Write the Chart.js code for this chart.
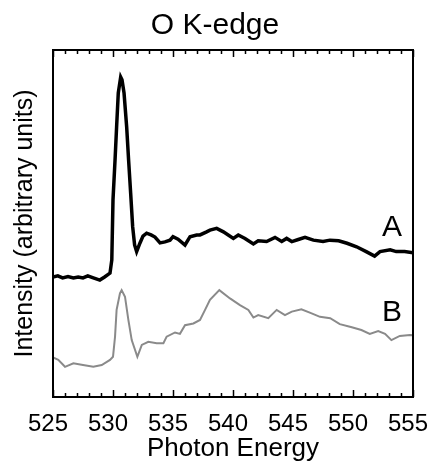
<!DOCTYPE html>
<html>
<head>
<meta charset="utf-8">
<title>O K-edge</title>
<script src="https://cdn.jsdelivr.net/npm/chart.js@4"></script>
<style>
    body { margin: 0; background: #fff; }
    #wrap { width: 430px; height: 461px; }
</style>
</head>
<body>
<div id="wrap"><canvas id="xasChart" width="430" height="461"></canvas></div>
<script>
// Photon energy (eV) and intensity for spectrum A
const energyA = [525.0, 525.4, 525.8, 526.25, 526.7, 527.1, 527.5, 527.9, 528.3, 528.9, 529.3, 529.75,
    529.9, 530.0, 530.17, 530.3, 530.44, 530.64, 530.75, 530.92, 531.14, 531.3, 531.47, 531.64, 531.8, 531.97,
    532.25, 532.5, 532.8, 533.17, 533.5, 533.92, 534.33, 534.75, 535.0, 535.42, 536.0, 536.42, 536.97,
    537.25, 537.8, 538.08, 538.64, 539.2, 539.6, 540.03, 540.44, 541.0, 541.7, 542.1, 542.8, 543.5,
    544.06, 544.47, 544.9, 545.44, 546.0, 546.7, 547.5, 548.08, 548.8, 549.5, 550.3, 551.1, 551.8,
    552.25, 553.1, 553.6, 554.3, 555.0];
const intensityA = [34.6, 34.9, 34.3, 34.7, 34.3, 34.6, 34.3, 34.9, 34.4, 33.7, 34.6, 35.7,
    39.5, 56.8, 68.3, 77.8, 87.6, 92.2, 91.4, 87.6, 77.8, 68.3, 58.8, 49.0, 43.8, 41.9,
    44.4, 46.4, 47.2, 46.7, 46.1, 44.4, 44.7, 45.2, 46.2, 45.5, 43.8, 46.2, 46.7,
    46.7, 47.6, 48.1, 48.6, 47.6, 46.7, 45.7, 46.7, 45.7, 44.1, 45.0, 44.8, 46.0,
    44.8, 45.7, 44.8, 45.4, 46.0, 45.2, 44.8, 45.2, 45.0, 44.3, 43.3, 41.9, 40.6,
    41.9, 42.4, 41.9, 41.9, 41.6];

// Photon energy (eV) and intensity for spectrum B
const energyB = [525.0, 525.44, 526.0, 526.7, 527.5, 528.36, 529.06, 529.75, 530.0, 530.17, 530.3,
    530.58, 530.72, 531.0, 531.28, 531.56, 532.03, 532.4, 532.94, 533.64, 534.2, 534.47, 535.17,
    535.58, 536.0, 536.7, 537.25, 537.67, 538.08, 538.86, 539.75, 540.58, 541.28, 541.7, 542.1,
    542.94, 543.64, 544.33, 544.9, 545.7, 546.4, 547.25, 548.1, 548.9, 549.9, 550.7, 551.4, 552.1,
    552.67, 553.2, 553.9, 554.75, 555.0];
const intensityB = [11.4, 10.7, 8.7, 9.7, 9.2, 8.7, 9.2, 10.7, 11.6, 17.4, 25.1,
    29.9, 30.8, 28.9, 22.2, 16.4, 11.6, 15.0, 15.9, 15.5, 15.5, 17.4, 18.6,
    18.2, 20.7, 21.2, 22.2, 25.1, 28.0, 30.8, 28.4, 26.5, 25.1, 22.9, 23.6,
    22.7, 25.1, 23.6, 24.6, 25.3, 24.3, 23.1, 22.7, 21.0, 20.1, 19.3, 18.2, 19.0,
    18.2, 16.4, 17.6, 17.9, 17.8];

// Curve labels placed at (energy, intensity)
const curveLabels = [
    { text: 'A', x: 553.25, y: 48.7 },
    { text: 'B', x: 553.25, y: 24.2 }
];

const FONT = '"Liberation Sans", Arial, Helvetica, sans-serif';

function toPoints(xs, ys) {
    return xs.map((x, i) => ({ x: x, y: ys[i] }));
}

// Box frame with inward ticks on top and bottom, plus the A / B labels
const framePlugin = {
    id: 'frame',
    afterDraw(chart) {
        const ctx = chart.ctx;
        const area = chart.chartArea;
        const xs = chart.scales.x;
        const ys = chart.scales.y;

        ctx.save();
        ctx.strokeStyle = '#000';
        ctx.lineWidth = 2;
        ctx.strokeRect(area.left, area.top, area.right - area.left, area.bottom - area.top);

        ctx.lineWidth = 1.5;
        for (let e = xs.min; e <= xs.max; e++) {
            const px = Math.round(xs.getPixelForValue(e)) + 0.5;
            const len = (e % 5 === 0) ? 7 : 4;
            ctx.beginPath();
            ctx.moveTo(px, area.bottom);
            ctx.lineTo(px, area.bottom - len);
            ctx.moveTo(px, area.top);
            ctx.lineTo(px, area.top + len);
            ctx.stroke();
        }

        ctx.fillStyle = '#000';
        ctx.font = '30px ' + FONT;
        ctx.textAlign = 'center';
        ctx.textBaseline = 'middle';
        curveLabels.forEach(l => {
            ctx.fillText(l.text, xs.getPixelForValue(l.x), ys.getPixelForValue(l.y));
        });
        ctx.restore();
    }
};

const ctx = document.getElementById('xasChart').getContext('2d');
const chart = new Chart(ctx, {
    type: 'line',
    data: {
        datasets: [
            {
                label: 'A',
                data: toPoints(energyA, intensityA),
                borderColor: '#000',
                borderWidth: 3.5,
                pointRadius: 0,
                tension: 0
            },
            {
                label: 'B',
                data: toPoints(energyB, intensityB),
                borderColor: '#8a8a8a',
                borderWidth: 2,
                pointRadius: 0,
                tension: 0
            }
        ]
    },
    options: {
        responsive: false,
        animation: false,
        layout: { padding: 0 },
        plugins: {
            legend: { display: false },
            tooltip: { enabled: false },
            title: {
                display: true,
                text: 'O K-edge',
                color: '#000',
                font: { family: FONT, size: 30, weight: 'normal' },
                padding: { top: 8, bottom: 6 }
            }
        },
        scales: {
            x: {
                type: 'linear',
                min: 525,
                max: 555,
                grid: { display: false, drawTicks: false },
                border: { display: false },
                ticks: {
                    stepSize: 5,
                    color: '#000',
                    padding: 13,
                    labelOffset: -5,
                    maxRotation: 0,
                    font: { family: FONT, size: 24 }
                },
                title: {
                    display: true,
                    text: 'Photon Energy',
                    color: '#000',
                    font: { family: FONT, size: 26 },
                    padding: { top: 0, bottom: -3 }
                },
                afterFit(scale) {
                    scale.height = 64;
                    scale.paddingLeft = 0;
                    scale.paddingRight = 17;
                }
            },
            y: {
                min: 0,
                max: 100,
                grid: { display: false, drawTicks: false },
                border: { display: false },
                ticks: { display: false },
                title: {
                    display: true,
                    text: 'Intensity (arbitrary units)',
                    color: '#000',
                    font: { family: FONT, size: 25 },
                    padding: { top: 10, bottom: 0 }
                },
                afterFit(scale) { scale.width = 53; }
            }
        }
    },
    plugins: [framePlugin]
});
</script>
</body>
</html>
